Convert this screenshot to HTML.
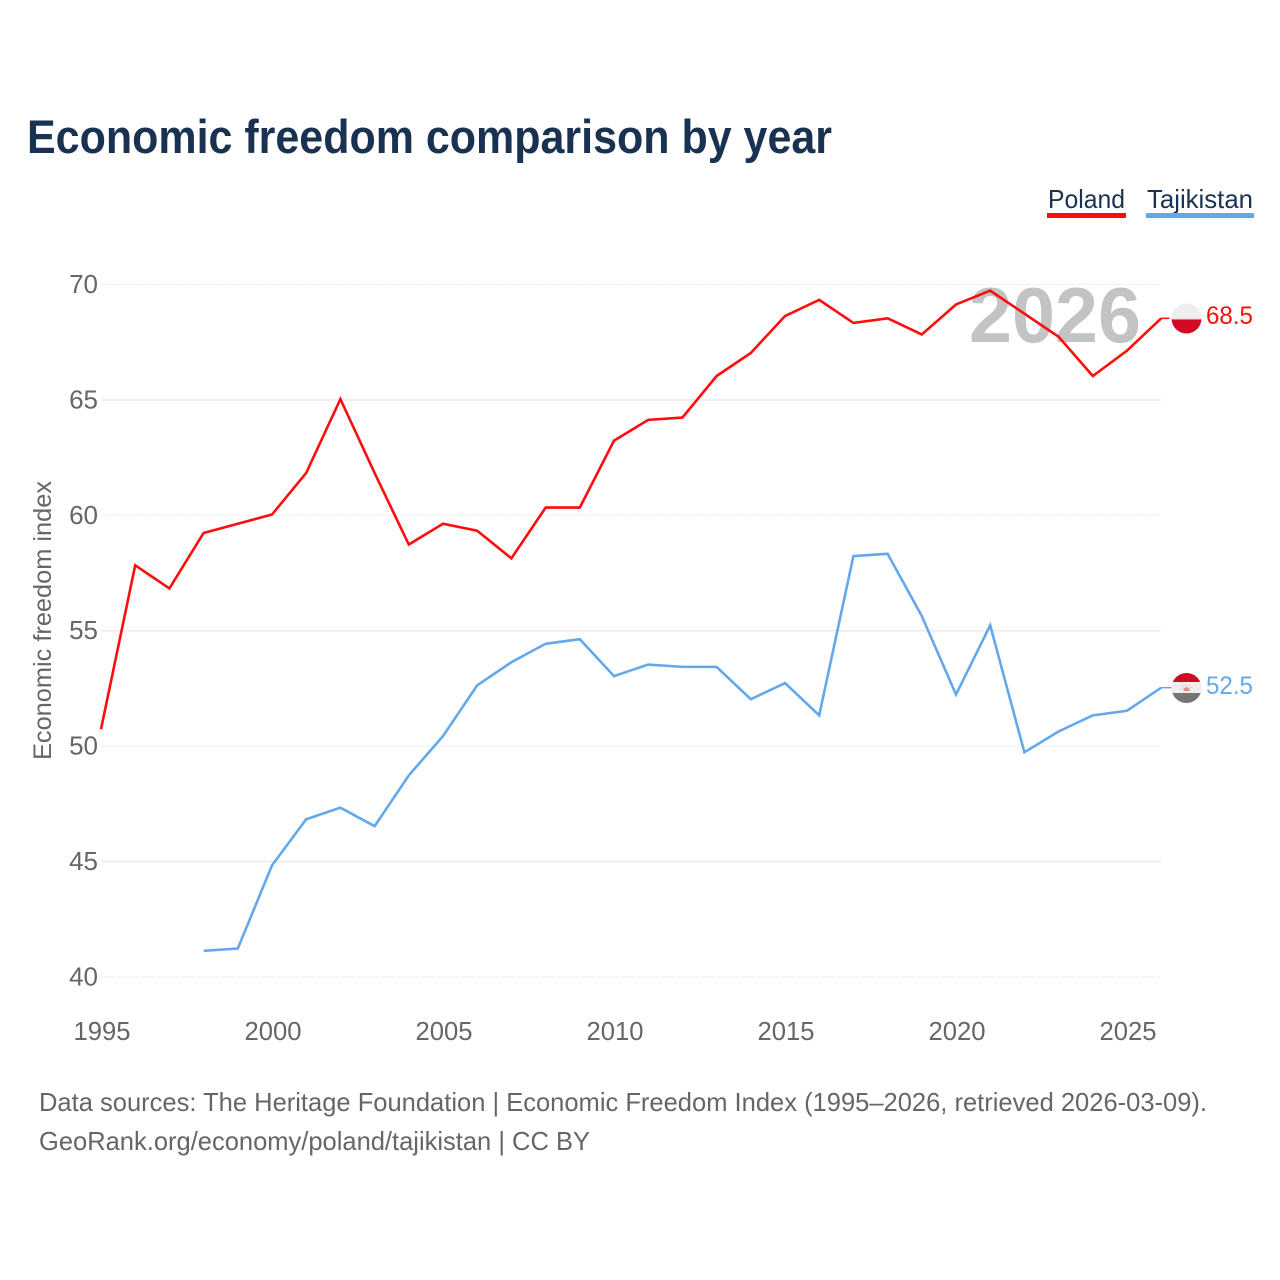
<!DOCTYPE html>
<html lang="en">
<head>
<meta charset="utf-8">
<title>Economic freedom comparison by year</title>
<style>
html,body{margin:0;padding:0;background:#fff;}
svg{display:block;}
text{font-family:"Liberation Sans",sans-serif;}
</style>
</head>
<body>
<svg id="chart" width="1280" height="1280" viewBox="0 0 1280 1280" xmlns="http://www.w3.org/2000/svg">
  <defs>
    <clipPath id="clip-pl"><circle cx="1186.5" cy="318.5" r="15"/></clipPath>
    <clipPath id="clip-tj"><circle cx="1186.5" cy="688" r="15"/></clipPath>
  </defs>
  <rect width="1280" height="1280" fill="#fff"/>
  <text x="27" y="153" font-size="47" font-weight="700" fill="#1a3252" textLength="805" lengthAdjust="spacingAndGlyphs">Economic freedom comparison by year</text>

  <g>
    <g>
      <text x="1048" y="208" font-size="26" fill="#1a3252" textLength="77" lengthAdjust="spacingAndGlyphs">Poland</text>
      <rect x="1047" y="213" width="79" height="5" fill="#ff0d0d"/>
    </g>
    <g>
      <text x="1147" y="208" font-size="26" fill="#1a3252" textLength="106" lengthAdjust="spacingAndGlyphs">Tajikistan</text>
      <rect x="1146" y="213" width="108" height="5" fill="#64a8ec"/>
    </g>
  </g>

  <g id="grid"></g>
  <g id="y-ticks"></g>
  <g id="x-ticks"></g>
  <text transform="translate(51 760) rotate(-90)" font-size="25" fill="#666" textLength="279" lengthAdjust="spacingAndGlyphs">Economic freedom index</text>

  <text id="year-watermark" x="969" y="342" font-size="78" font-weight="700" fill="#c2c3c3" textLength="172" lengthAdjust="spacingAndGlyphs">2026</text>
  <g id="series" transform="translate(-0.5 -0.8)"></g>

  <g clip-path="url(#clip-pl)">
    <rect x="1170" y="302" width="34" height="16.5" fill="#eeeeee"/>
    <rect x="1170" y="318.5" width="34" height="2" fill="#f3b4b8" opacity="0.7"/>
    <rect x="1170" y="319.5" width="34" height="16" fill="#d20a24"/>
  </g>
  <g clip-path="url(#clip-tj)">
    <rect x="1170" y="672" width="34" height="10" fill="#d20a24"/>
    <rect x="1170" y="682" width="34" height="11" fill="#eeeeee"/>
    <rect x="1170" y="693" width="34" height="11" fill="#757575"/>
    <path d="M1183.5 691 L1183.5 688.5 L1186.5 687 L1189.5 688.5 L1189.5 691 Z" fill="#f08a8a"/>
    <path d="M1180.5 689 A6.5 6 0 0 1 1192.5 689" fill="none" stroke="#d8c4c4" stroke-width="1" stroke-dasharray="1.5 1.5"/>
  </g>
  <text id="value-poland" x="1206" y="324" font-size="25" fill="#ff0d0d" textLength="47" lengthAdjust="spacingAndGlyphs">68.5</text>
  <text id="value-tajikistan" x="1206" y="694" font-size="25" fill="#64a8ec" textLength="47" lengthAdjust="spacingAndGlyphs">52.5</text>

  <text x="39" y="1111" font-size="26" fill="#666" textLength="1168" lengthAdjust="spacingAndGlyphs">Data sources: The Heritage Foundation | Economic Freedom Index (1995–2026, retrieved 2026-03-09).</text>
  <text x="39" y="1150" font-size="26" fill="#666" textLength="551" lengthAdjust="spacingAndGlyphs">GeoRank.org/economy/poland/tajikistan | CC BY</text>
</svg>
<script>
const years = [1995,1996,1997,1998,1999,2000,2001,2002,2003,2004,2005,2006,2007,2008,2009,2010,2011,2012,2013,2014,2015,2016,2017,2018,2019,2020,2021,2022,2023,2024,2025,2026];
const polandValues = [50.7,57.8,56.8,59.2,59.6,60.0,61.8,65.0,61.8,58.7,59.6,59.3,58.1,60.3,60.3,63.2,64.1,64.2,66.0,67.0,68.6,69.3,68.3,68.5,67.8,69.1,69.7,68.7,67.7,66.0,67.1,68.5];
const tajikistanValues = [null,null,null,41.1,41.2,44.8,46.8,47.3,46.5,48.7,50.4,52.6,53.6,54.4,54.6,53.0,53.5,53.4,53.4,52.0,52.7,51.3,58.2,58.3,55.6,52.2,55.2,49.7,50.6,51.3,51.5,52.5];
const yTickValues = [40,45,50,55,60,65,70];
const xTickValues = [1995,2000,2005,2010,2015,2020,2025];

const NS = 'http://www.w3.org/2000/svg';
const xScale = function (year) { return 101.5 + (year - 1995) * 34.2; };
const yScale = function (value) { return 284.5 + (70 - value) * 23.083; };

const gridGroup = document.getElementById('grid');
const yTickGroup = document.getElementById('y-ticks');
const xTickGroup = document.getElementById('x-ticks');
const seriesGroup = document.getElementById('series');

yTickValues.forEach(function (tick) {
  const y = yScale(tick);
  const major = tick === 45 || tick === 55 || tick === 65;
  const line = document.createElementNS(NS, 'line');
  
  
  line.setAttribute('x1', 101);
  line.setAttribute('x2', 1161);
  line.setAttribute('y1', y);
  line.setAttribute('y2', y);
  line.setAttribute('stroke', major ? '#ebebeb' : '#eeeeee');
  line.setAttribute('stroke-width', major ? 1.6 : 1);
  if (!major) line.setAttribute('stroke-dasharray', '4 1');
  gridGroup.appendChild(line);

  const label = document.createElementNS(NS, 'text');
  
  
  label.setAttribute('x', 98);
  label.setAttribute('y', y + 8.5);
  label.setAttribute('text-anchor', 'end');
  label.setAttribute('font-size', 26);
  label.setAttribute('fill', '#666');
  label.textContent = tick;
  yTickGroup.appendChild(label);
});

xTickValues.forEach(function (tick) {
  const label = document.createElementNS(NS, 'text');
  
  
  label.setAttribute('x', xScale(tick) - 28);
  label.setAttribute('y', 1040);
  label.setAttribute('font-size', 26);
  label.setAttribute('fill', '#666');
  label.setAttribute('textLength', 57);
  label.setAttribute('lengthAdjust', 'spacingAndGlyphs');
  label.textContent = tick;
  xTickGroup.appendChild(label);
});

function pathFrom(values) {
  let d = '';
  values.forEach(function (v, i) {
    if (v === null) return;
    d += (d ? 'L' : 'M') + xScale(years[i]).toFixed(2) + ' ' + yScale(v).toFixed(2);
  });
  return d;
}

function lastValue(values) {
  return values[values.length - 1];
}

const polandLine = document.createElementNS(NS, 'path');


polandLine.setAttribute('d', pathFrom(polandValues));
polandLine.setAttribute('fill', 'none');
polandLine.setAttribute('stroke', '#ff0d0d');
polandLine.setAttribute('stroke-width', 2.6);
seriesGroup.appendChild(polandLine);

const tajikistanLine = document.createElementNS(NS, 'path');


tajikistanLine.setAttribute('d', pathFrom(tajikistanValues));
tajikistanLine.setAttribute('fill', 'none');
tajikistanLine.setAttribute('stroke', '#64a8ec');
tajikistanLine.setAttribute('stroke-width', 2.6);
seriesGroup.appendChild(tajikistanLine);

const polandStub = document.createElementNS(NS, 'line');


polandStub.setAttribute('x1', xScale(2026));
polandStub.setAttribute('x2', 1170);
polandStub.setAttribute('y1', yScale(lastValue(polandValues)));
polandStub.setAttribute('y2', yScale(lastValue(polandValues)));
polandStub.setAttribute('stroke', '#ff0d0d');
polandStub.setAttribute('stroke-width', 1.5);
seriesGroup.appendChild(polandStub);

const tajikistanStub = document.createElementNS(NS, 'line');


tajikistanStub.setAttribute('x1', xScale(2026));
tajikistanStub.setAttribute('x2', 1172);
tajikistanStub.setAttribute('y1', yScale(lastValue(tajikistanValues)));
tajikistanStub.setAttribute('y2', yScale(lastValue(tajikistanValues)));
tajikistanStub.setAttribute('stroke', '#64a8ec');
tajikistanStub.setAttribute('stroke-width', 1.5);
seriesGroup.appendChild(tajikistanStub);

document.getElementById('value-poland').textContent = lastValue(polandValues).toFixed(1);
document.getElementById('value-tajikistan').textContent = lastValue(tajikistanValues).toFixed(1);
document.getElementById('year-watermark').textContent = years[years.length - 1];
</script>
</body>
</html>
